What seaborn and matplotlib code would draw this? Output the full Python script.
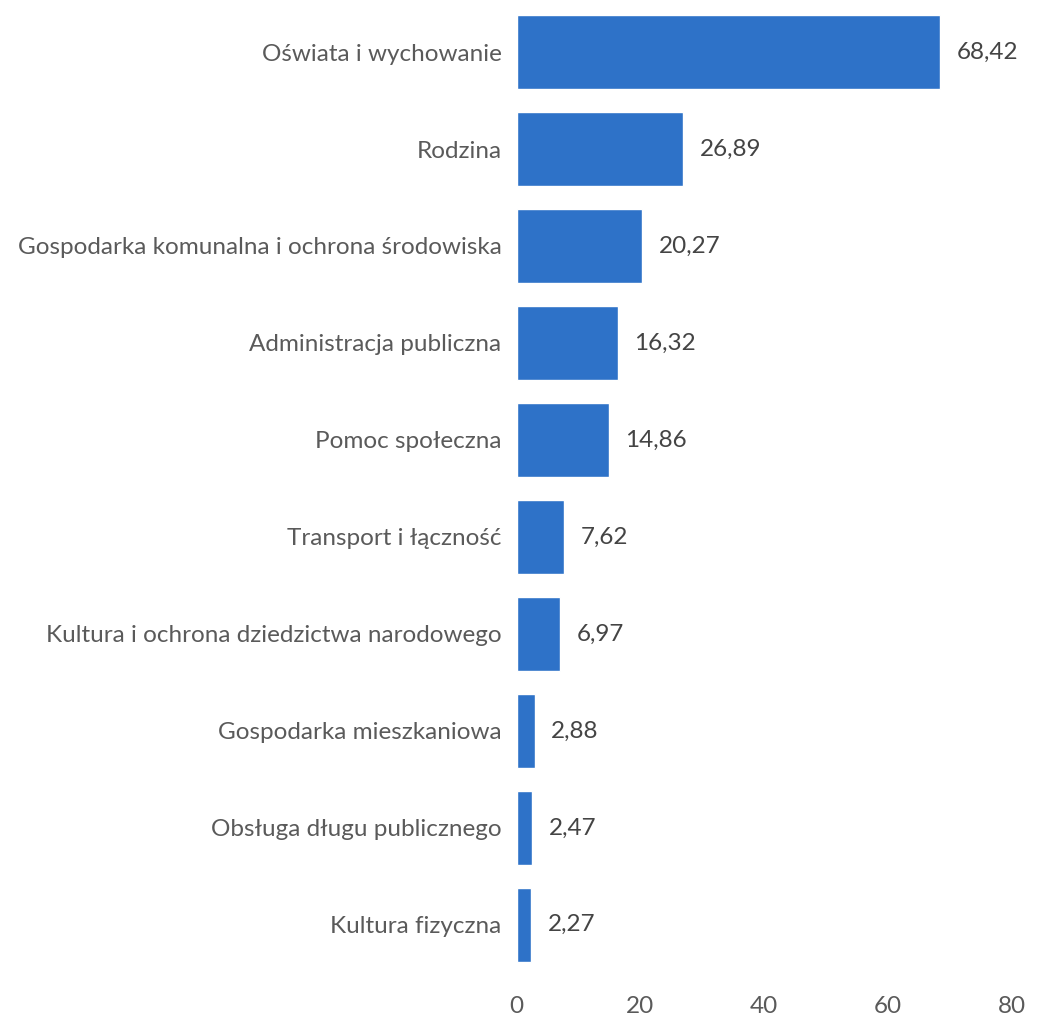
import matplotlib
matplotlib.use("Agg")
import matplotlib.pyplot as plt
import seaborn as sns
import pandas as pd

categories = [
    "Oświata i wychowanie",
    "Rodzina",
    "Gospodarka komunalna i ochrona środowiska",
    "Administracja publiczna",
    "Pomoc społeczna",
    "Transport i łączność",
    "Kultura i ochrona dziedzictwa narodowego",
    "Gospodarka mieszkaniowa",
    "Obsługa długu publicznego",
    "Kultura fizyczna",
]
values = [68.42, 26.89, 20.27, 16.32, 14.86, 7.62, 6.97, 2.88, 2.47, 2.27]
value_labels = ["68,42", "26,89", "20,27", "16,32", "14,86", "7,62", "6,97", "2,88", "2,47", "2,27"]
x_ticks = [0, 20, 40, 60, 80]

df = pd.DataFrame({"category": categories, "value": values})

sns.set_theme(style="white")
plt.rcParams["font.family"] = ["Lato", "DejaVu Sans"]

fig = plt.figure(figsize=(10.44, 10.16), dpi=100)
ax = fig.add_axes([0.495, 0.042, 0.474, 0.9545])

sns.barplot(data=df, x="value", y="category", color="#2e72c8", width=0.76,
            saturation=1, ax=ax)

for i, (v, lab) in enumerate(zip(values, value_labels)):
    ax.annotate(lab, (v, i), xytext=(12, 0), textcoords="offset points",
                va="center", ha="left", fontsize=17.5, color="#444444")

ax.set_xlim(0, 80)
ax.set_xticks(x_ticks)
ax.set_xticklabels([str(t) for t in x_ticks])
ax.set_xlabel("")
ax.set_ylabel("")
ax.tick_params(axis="y", labelsize=17.5, labelcolor="#5a5a5a", length=0, pad=11)
ax.tick_params(axis="x", labelsize=17.5, labelcolor="#5a5a5a", length=0, pad=16)
for s in ax.spines.values():
    s.set_visible(False)

fig.savefig("out.png", dpi=100, facecolor="white")
